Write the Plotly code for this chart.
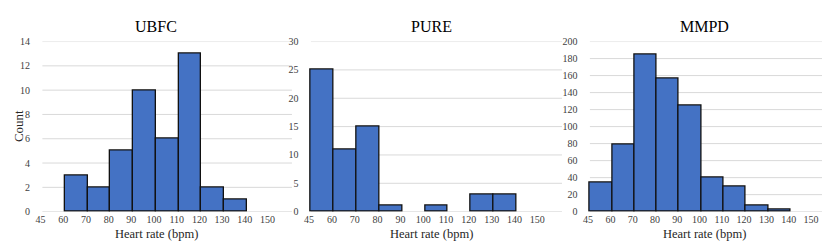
import plotly.graph_objects as go

bin_labels = ["45", "60", "70", "80", "90", "100", "110", "120", "130", "140", "150"]
ubfc_counts = [0, 3, 2, 5, 10, 6, 13, 2, 1, 0]
pure_counts = [25, 11, 15, 1, 0, 1, 0, 3, 3, 0]
mmpd_counts = [34, 79, 185, 157, 125, 40, 30, 7, 3, 0]
titles = ["UBFC", "PURE", "MMPD"]
y_max = [14, 30, 200]
y_step = [2, 5, 20]

W, H = 830, 241
dom_px = [(31.5, 282), (301, 553), (581, 827)]
title_x_px = [146, 422, 696]
plot_top, plot_bot = 29, 208
PAD = 0.15

FONT = "Liberation Serif, Times New Roman, serif"
BAR = "#4472C4"
GRID = "#D9D9D9"
TICK = "#404040"

fig = go.Figure()
series = [ubfc_counts, pure_counts, mmpd_counts]
for k, counts in enumerate(series):
    xs = [i + 0.5 for i, c in enumerate(counts) if c > 0]
    ys = [c for c in counts if c > 0]
    sfx = "" if k == 0 else str(k + 1)
    fig.add_trace(go.Bar(
        x=xs, y=ys, width=1,
        marker=dict(color=BAR, line=dict(color="#111111", width=1.3)),
        xaxis="x" + sfx, yaxis="y" + sfx, showlegend=False,
        hoverinfo="skip",
    ))
    d0, d1 = dom_px[k]
    bw = (d1 - d0) / 11.0
    xa = dict(
        domain=[(d0 - PAD * bw) / W, d1 / W], range=[-PAD, 11], anchor="y" + sfx,
        tickvals=[i - 0.08 for i in range(len(bin_labels))], ticktext=bin_labels,
        showgrid=False, zeroline=False, showline=False, ticks="",
        tickfont=dict(family=FONT, size=10, color=TICK), ticklabelstandoff=0,
    )
    ya = dict(
        domain=[1 - plot_bot / H, 1 - plot_top / H], range=[0, y_max[k]],
        anchor="x" + sfx, dtick=y_step[k], tick0=0,
        showgrid=False, zeroline=False, showline=False, ticks="",
        tickfont=dict(family=FONT, size=10, color=TICK), ticklabelstandoff=8,
    )
    fig.update_layout(**{"xaxis" + sfx: xa, "yaxis" + sfx: ya})
    for v in range(0, y_max[k] + 1, y_step[k]):
        fig.add_shape(type="line", xref="x" + sfx, yref="y" + sfx,
                      x0=0, x1=11, y0=v, y1=v, layer="below",
                      line=dict(color=GRID, width=1))
    fig.add_annotation(text=titles[k], x=title_x_px[k] / W, y=1 - 13 / H,
                       xref="paper", yref="paper", showarrow=False,
                       font=dict(family=FONT, size=16, color="#000000"),
                       xanchor="center", yanchor="middle")
    fig.add_annotation(text="Heart rate (bpm)", x=title_x_px[k] / W, y=1 - 232 / H,
                       xref="paper", yref="paper", showarrow=False, borderpad=0,
                       font=dict(family=FONT, size=12.5, color="#262626"),
                       xanchor="center", yanchor="middle")

fig.add_annotation(text="Count", x=7 / W, y=1 - 118 / H, xref="paper", yref="paper",
                   showarrow=False, textangle=-90,
                   font=dict(family=FONT, size=13, color="#262626"),
                   xanchor="center", yanchor="middle")

fig.update_layout(
    width=W, height=H, margin=dict(l=0, r=0, t=0, b=0),
    paper_bgcolor="white", plot_bgcolor="white", bargap=0,
    font=dict(family=FONT),
)
fig.write_html("out.html")
